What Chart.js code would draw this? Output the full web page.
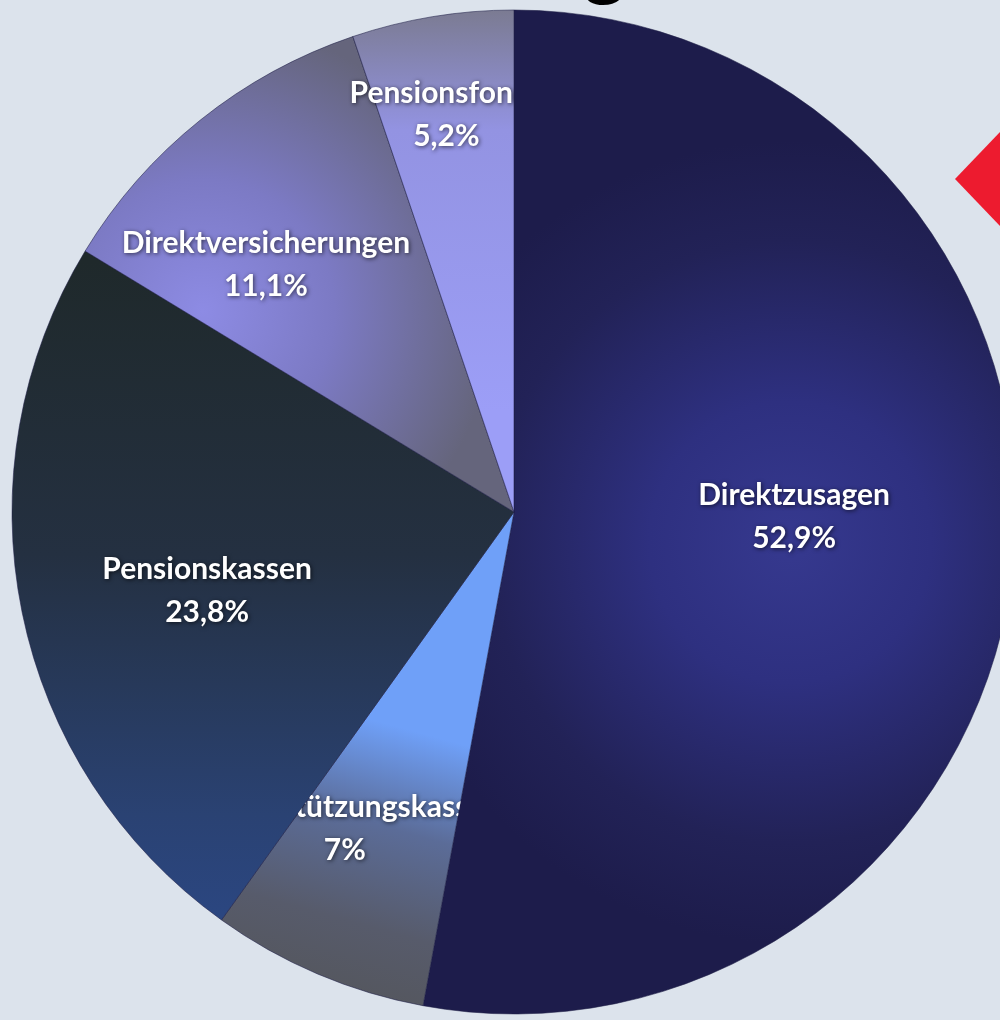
<!DOCTYPE html>
<html lang="de">
<head>
<meta charset="utf-8">
<title>Durchführungswege</title>
<script src="https://cdn.jsdelivr.net/npm/chart.js@4.4.0/dist/chart.umd.min.js"></script>
<style>
  html, body { margin: 0; padding: 0; overflow: hidden; }
  body { width: 1000px; height: 1020px; background: #dce3ec; position: relative; }
  #chartBox { position: absolute; left: 0; top: 0; width: 1028px; height: 1024px; }
  h1 {
    position: absolute; right: 370px; top: -83px; margin: 0;
    font: bold 84px "Liberation Sans", Arial, sans-serif; line-height: 84px;
    color: #000; white-space: nowrap;
  }
  .arrow {
    position: absolute; left: 955px; top: 132px; width: 45px; height: 94px;
    background: #ed1b2f; clip-path: polygon(0 50%, 100% 0, 100% 100%);
  }
</style>
</head>
<body>
<h1>Verteilung</h1>
<div class="arrow"></div>
<div id="chartBox"><canvas id="pieChart"></canvas></div>

<script>
// ---- data ----
const categories = ['Direktzusagen', 'Unterstützungskasse', 'Pensionskassen', 'Direktversicherungen', 'Pensionsfonds'];
const shares = [52.9, 7, 23.8, 11.1, 5.2];

// ---- label placement (fraction of radius, turn in degrees) ----
const labelRadius = [0.558, 0.715, 0.631, 0.699, 0.803];
const labelTurn = [-4.4, 5.1, -2.8, -6.3, -0.3];
// slices painted over a label (the original clips these)
const coveredBy = [[], [0, 2], [], [], [0]];

function sliceFill(context) {
    const chart = context.chart;
    const area = chart.chartArea;
    const i = context.dataIndex;
    const flat = ['#25265f', '#5a6b96', '#263556', '#7a78c0', '#9899ea'];
    if (!area) return flat[i];
    const c = chart.ctx;
    const cx = (area.left + area.right) / 2;
    const cy = (area.top + area.bottom) / 2;
    const r = 502;
    let g;
    switch (i) {
        case 0:
            g = c.createRadialGradient(cx + 0.55 * r, cy + 0.06 * r, 0, cx + 0.55 * r, cy + 0.06 * r, 0.8 * r);
            g.addColorStop(0, '#36398f');
            g.addColorStop(0.35, '#2e3080');
            g.addColorStop(0.75, '#222257');
            g.addColorStop(1, '#1d1c4b');
            break;
        case 1:
            g = c.createLinearGradient(cx - 0.15 * r, cy + 0.45 * r, cx - 0.3 * r, cy + r);
            g.addColorStop(0, '#6fa0f8');
            g.addColorStop(0.35, '#5b6c98');
            g.addColorStop(0.7, '#575b6b');
            g.addColorStop(1, '#54565c');
            break;
        case 2:
            g = c.createLinearGradient(0, cy - 0.5 * r, 0, cy + 0.8 * r);
            g.addColorStop(0, '#1f292b');
            g.addColorStop(0.45, '#243041');
            g.addColorStop(0.85, '#2a4273');
            g.addColorStop(1, '#2b4680');
            break;
        case 3:
            g = c.createRadialGradient(cx - 0.62 * r, cy - 0.4 * r, 0, cx - 0.62 * r, cy - 0.4 * r, 0.58 * r);
            g.addColorStop(0, '#8d8be4');
            g.addColorStop(0.45, '#7c7ac4');
            g.addColorStop(1, '#65657c');
            break;
        default:
            g = c.createLinearGradient(0, cy - r, 0, cy - 0.2 * r);
            g.addColorStop(0, '#7b7b92');
            g.addColorStop(0.3, '#9393e2');
            g.addColorStop(1, '#9c9ef7');
    }
    return g;
}

const sliceLabels = {
    id: 'sliceLabels',
    afterDatasetsDraw(chart) {
        const ctx = chart.ctx;
        const arcs = chart.getDatasetMeta(0).data;
        arcs.forEach((arc, i) => {
            const p = arc.getProps(['x', 'y', 'startAngle', 'endAngle', 'outerRadius'], true);
            const mid = (p.startAngle + p.endAngle) / 2 + labelTurn[i] * Math.PI / 180;
            const r = p.outerRadius * labelRadius[i];
            const lx = p.x + Math.cos(mid) * r;
            const ly = p.y + Math.sin(mid) * r;

            ctx.save();
            ctx.beginPath();
            ctx.rect(0, 0, chart.width, chart.height);
            coveredBy[i].forEach(j => {
                const a = arcs[j].getProps(['x', 'y', 'startAngle', 'endAngle', 'outerRadius'], true);
                ctx.moveTo(a.x, a.y);
                ctx.arc(a.x, a.y, a.outerRadius * 1.5, a.startAngle, a.endAngle);
                ctx.closePath();
            });
            ctx.clip('evenodd');

            ctx.font = 'bold 30px Lato, "Open Sans", sans-serif';
            ctx.textAlign = 'center';
            ctx.textBaseline = 'middle';
            ctx.fillStyle = '#ffffff';
            ctx.shadowColor = 'rgba(0, 0, 0, 0.65)';
            ctx.shadowBlur = 4;
            ctx.shadowOffsetX = 1;
            ctx.shadowOffsetY = 1;
            const pct = String(shares[i]).replace('.', ',') + '%';
            ctx.fillText(categories[i], lx, ly - 21);
            ctx.fillText(pct, lx, ly + 22);
            ctx.restore();
        });
    }
};

new Chart(document.getElementById('pieChart').getContext('2d'), {
    type: 'pie',
    data: {
        labels: categories,
        datasets: [{
            data: shares,
            backgroundColor: sliceFill,
            borderColor: 'rgba(30, 30, 70, 0.55)',
            borderWidth: 1,
            radius: 502
        }]
    },
    options: {
        responsive: true,
        maintainAspectRatio: false,
        animation: false,
        layout: { padding: 0 },
        plugins: {
            legend: { display: false },
            tooltip: { enabled: false },
            title: { display: false }
        }
    },
    plugins: [sliceLabels]
});
</script>
</body>
</html>
